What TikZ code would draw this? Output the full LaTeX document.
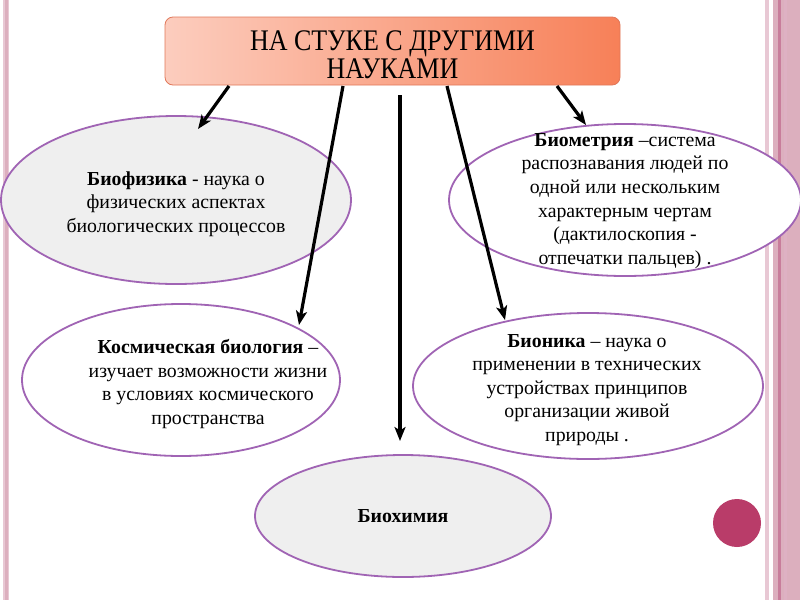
\documentclass[tikz,border=0pt]{standalone}
\usepackage{fontspec}
\setmainfont{Liberation Serif}
\usetikzlibrary{shapes.geometric,arrows.meta}
\definecolor{ellborder}{RGB}{160,100,180}
\definecolor{stripelight}{RGB}{232,200,212}
\definecolor{stripemid}{RGB}{220,175,190}
\definecolor{stripedark}{RGB}{200,125,155}
\definecolor{dotcol}{RGB}{185,60,105}
\definecolor{titleL}{RGB}{252,205,190}
\definecolor{titleR}{RGB}{247,128,88}
\definecolor{titleB}{RGB}{225,120,90}
\definecolor{grayfill}{RGB}{239,239,239}
\begin{document}
\begin{tikzpicture}[x=1pt,y=-1pt,
  ell/.style={draw=ellborder, line width=1.8pt, ellipse, inner sep=0pt, outer sep=0pt},
  txt/.style={align=center, font=\fontsize{19.8}{23.6}\selectfont, text=black, inner sep=0pt},
  conn/.style={line width=3.2pt, -{Stealth[length=14pt,width=11pt,inset=3.5pt]}},
  titlebox/.style={draw=titleB, line width=0.8pt, rounded corners=8pt, left color=titleL, right color=titleR, minimum width=455pt, minimum height=68pt, inner sep=0pt}]
\useasboundingbox (0,0) rectangle (800,600);
\fill[white] (0,0) rectangle (800,600);
% page border stripes
\fill[stripelight] (2.5,0) rectangle (9,600);
\fill[stripemid] (4.5,0) rectangle (7.5,600);
\fill[stripelight] (764.5,0) rectangle (768.5,600);
\fill[stripemid] (773,0) rectangle (800,600);
\fill[stripedark] (778,0) rectangle (781,600);
\fill[stripelight!70!stripedark] (784,0) rectangle (786.5,600);
% decorative dot
\fill[dotcol] (737,523) circle (24);
% title
\node[titlebox] (title) at (392.5,51) {};
\node[inner sep=0pt] (titletext) at (392.5,59) {\scalebox{1}[1.15]{\fontsize{26}{24.6}\selectfont\begin{tabular}{@{}c@{}}НА СТУКЕ С ДРУГИМИ\\НАУКАМИ\end{tabular}}};
% ellipses
\node[ell, fill=grayfill, minimum width=350pt, minimum height=168pt] (bf) at (176,200) {};
\node[ell, fill=white, minimum width=352pt, minimum height=152pt] (bm) at (625,200) {};
\node[ell, fill=white, minimum width=318pt, minimum height=152pt] (kb) at (181,380) {};
\node[ell, fill=white, minimum width=350pt, minimum height=146pt] (bn) at (588,386) {};
\node[ell, fill=grayfill, minimum width=296pt, minimum height=122pt] (bh) at (403,516) {};
% texts
\node[txt] (bft) at (176,204) {\textbf{Биофизика} - наука о\\физических аспектах\\биологических процессов};
\node[txt] (bmt) at (625,201) {\textbf{Биометрия} –система\\распознавания людей по\\одной или нескольким\\характерным чертам\\(дактилоскопия -\\отпечатки пальцев) .};
\node[txt] (kbt) at (208,384) {\textbf{Космическая биология} –\\изучает возможности жизни\\в условиях космического\\пространства};
\node[txt] (bnt) at (587,390) {\textbf{Бионика} – наука о\\применении в технических\\устройствах принципов\\организации живой\\природы .};
\node[txt] (bht) at (403,516) {\textbf{Биохимия}};
% connector end points
\coordinate (s1) at (229,86);  \coordinate (e1) at (198,129);
\coordinate (s2) at (343,86);  \coordinate (e2) at (299,325);
\coordinate (s3) at (400,95);  \coordinate (e3) at (400,441);
\coordinate (s4) at (447,86);  \coordinate (e4) at (505,320);
\coordinate (s5) at (557,86);  \coordinate (e5) at (586,125);
\draw[conn] (s1) -- (e1);
\draw[conn] (s2) -- (e2);
\draw[conn] (s3) -- (e3);
\draw[conn] (s4) -- (e4);
\draw[conn] (s5) -- (e5);
\end{tikzpicture}
\end{document}
